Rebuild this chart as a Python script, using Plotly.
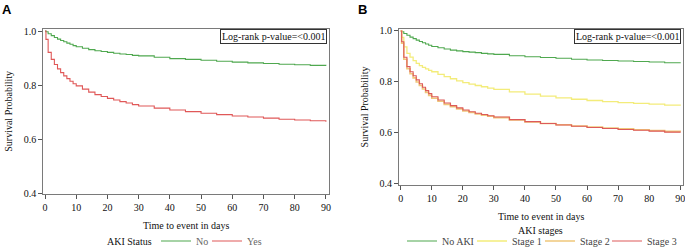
import plotly.graph_objects as go

W, H = 685, 247

# ---- data ----
days = [0, 0.3, 1, 2, 3, 4, 5, 6, 7, 8, 9, 10, 12, 14, 16, 18, 20, 22, 24, 26, 28,
        30, 35, 40, 45, 50, 55, 60, 65, 70, 75, 80, 85, 90]

a_no = [1.0, 0.997, 0.990, 0.983, 0.976, 0.970, 0.965, 0.960, 0.955, 0.951, 0.946, 0.942,
        0.936, 0.931, 0.927, 0.924, 0.921, 0.918, 0.915, 0.913, 0.910, 0.908, 0.903, 0.898,
        0.895, 0.892, 0.888, 0.885, 0.882, 0.880, 0.877, 0.875, 0.873, 0.872]
a_yes = [1.0, 0.969, 0.921, 0.895, 0.876, 0.860, 0.846, 0.834, 0.824, 0.814, 0.805, 0.797,
         0.785, 0.774, 0.765, 0.758, 0.751, 0.745, 0.739, 0.734, 0.728, 0.723, 0.715, 0.708,
         0.702, 0.696, 0.691, 0.686, 0.682, 0.678, 0.674, 0.671, 0.668, 0.665]

b_noaki = [1.0, 0.997, 0.990, 0.983, 0.976, 0.970, 0.964, 0.959, 0.954, 0.949, 0.944, 0.939,
           0.934, 0.929, 0.925, 0.922, 0.919, 0.917, 0.915, 0.912, 0.910, 0.908, 0.903, 0.899,
           0.896, 0.893, 0.889, 0.886, 0.884, 0.882, 0.880, 0.878, 0.875, 0.873]
b_stage1 = [1.0, 0.975, 0.938, 0.912, 0.897, 0.884, 0.873, 0.864, 0.857, 0.851, 0.845, 0.840,
            0.830, 0.821, 0.8125, 0.8045, 0.797, 0.7915, 0.786, 0.781, 0.776, 0.771, 0.761,
            0.752, 0.744, 0.737, 0.732, 0.727, 0.723, 0.719, 0.716, 0.713, 0.709, 0.706]
b_stage2 = [1.0, 0.952, 0.889, 0.852, 0.832, 0.816, 0.800, 0.786, 0.772, 0.759, 0.747, 0.736,
            0.724, 0.712, 0.703, 0.694, 0.686, 0.680, 0.674, 0.669, 0.665, 0.660, 0.651,
            0.643, 0.637, 0.632, 0.627, 0.623, 0.619, 0.616, 0.612, 0.609, 0.606, 0.604]
b_stage3 = [1.0, 0.958, 0.897, 0.860, 0.840, 0.824, 0.808, 0.793, 0.779, 0.766, 0.754, 0.742,
            0.729, 0.717, 0.707, 0.698, 0.690, 0.683, 0.677, 0.672, 0.667, 0.662, 0.652,
            0.644, 0.637, 0.631, 0.626, 0.621, 0.617, 0.613, 0.610, 0.607, 0.603, 0.600]

x_ticks = [0, 10, 20, 30, 40, 50, 60, 70, 80, 90]
y_ticks = [0.4, 0.6, 0.8, 1.0]

GREEN = "#4fa84f"
RED = "#e05858"
YELLOW = "#f3ec7a"
ORANGE = "#efc77a"
RED3 = "#dd5a5a"

SERIF = "Liberation Serif, Times New Roman, serif"

def px_x(p):
    return p / W

def px_y(p):
    return 1 - p / H

fig = go.Figure()

# (name, values, color, axes, legend id, legend x position in px, text color, width)
series = [
    ("No", a_no, GREEN, ("x", "y"), "legend", 156, "#666", 1.1),
    ("Yes", a_yes, RED, ("x", "y"), "legend2", 207, "#666", 1.1),
    ("No AKI", b_noaki, GREEN, ("x2", "y2"), "legend3", 402, "#444", 1.1),
    ("Stage 1", b_stage1, YELLOW, ("x2", "y2"), "legend4", 472, "#444", 1.3),
    ("Stage 2", b_stage2, ORANGE, ("x2", "y2"), "legend5", 540, "#444", 1.6),
    ("Stage 3", b_stage3, RED3, ("x2", "y2"), "legend6", 607, "#444", 1.1),
]

legends = {}
for name, vals, color, (xa_id, ya_id), leg, lx, tcol, lw in series:
    fig.add_trace(go.Scatter(x=days, y=vals, name=name, mode="lines", line_shape="hv",
                             line=dict(color=color, width=lw),
                             xaxis=xa_id, yaxis=ya_id, legend=leg))
    legends[leg] = dict(orientation="h", x=px_x(lx), xanchor="left", y=px_y(241), yanchor="middle",
                        font=dict(family=SERIF, size=10, color=tcol), bgcolor="rgba(0,0,0,0)",
                        itemwidth=30, tracegroupgap=0)

axis_common = dict(showgrid=False, zeroline=False, showline=True, mirror=True, automargin=False,
                   linecolor="#7a7a7a", linewidth=1, ticks="outside", ticklen=4,
                   ticklabeloverflow="allow",
                   tickcolor="#555", tickfont=dict(family=SERIF, size=10, color="#111"))

xa = dict(axis_common, range=[-0.55, 91.0], tickvals=x_ticks,
          title=dict(text="Time to event in days", font=dict(family=SERIF, size=10, color="#111"), standoff=9))
ya = dict(axis_common, tickvals=y_ticks, tickformat=".1f",
          title=dict(text="Survival Probability", font=dict(family=SERIF, size=10, color="#111"), standoff=9))

fig.update_layout(
    width=W, height=H, margin=dict(l=0, r=0, t=0, b=0, autoexpand=False),
    paper_bgcolor="white", plot_bgcolor="white",
    xaxis=dict(xa, domain=[px_x(43.3), px_x(329)], anchor="y"),
    yaxis=dict(ya, domain=[px_y(194), px_y(28.7)], range=[0.3975, 1.0085], anchor="x"),
    xaxis2=dict(xa, domain=[px_x(399), px_x(683.3)], anchor="y2"),
    yaxis2=dict(ya, domain=[px_y(185), px_y(29)], range=[0.3953, 1.0078], anchor="x2"),
    showlegend=True,
    **legends,
)

fig.add_annotation(xref="paper", yref="paper", x=px_x(129.5), y=px_y(241), xanchor="center", yanchor="middle",
                   text="AKI Status", showarrow=False, font=dict(family=SERIF, size=10, color="#111"))
fig.add_annotation(xref="paper", yref="paper", x=px_x(540), y=px_y(230), xanchor="center", yanchor="middle",
                   text="AKI stages", showarrow=False, font=dict(family=SERIF, size=10, color="#111"))

for xr, txt in [(px_x(327), "Log-rank p-value=<0.001"), (px_x(681), "Log-rank p-value=<0.001")]:
    fig.add_annotation(xref="paper", yref="paper", x=xr, y=px_y(37), xanchor="right", yanchor="middle",
                       text=txt, showarrow=False, font=dict(family=SERIF, size=10, color="#111"),
                       bordercolor="#333", borderwidth=1, borderpad=1, bgcolor="white")

for xp, lab in [(px_x(0), "A"), (px_x(356), "B")]:
    fig.add_annotation(xref="paper", yref="paper", x=xp, y=1, xanchor="left", yanchor="top",
                       text="<b>%s</b>" % lab, showarrow=False,
                       font=dict(family="Liberation Sans, Arial, sans-serif", size=13, color="#000"))

fig.write_html("out.html", config={"displayModeBar": False},
               post_script="document.body.style.margin='0';document.body.style.overflow='hidden';")
